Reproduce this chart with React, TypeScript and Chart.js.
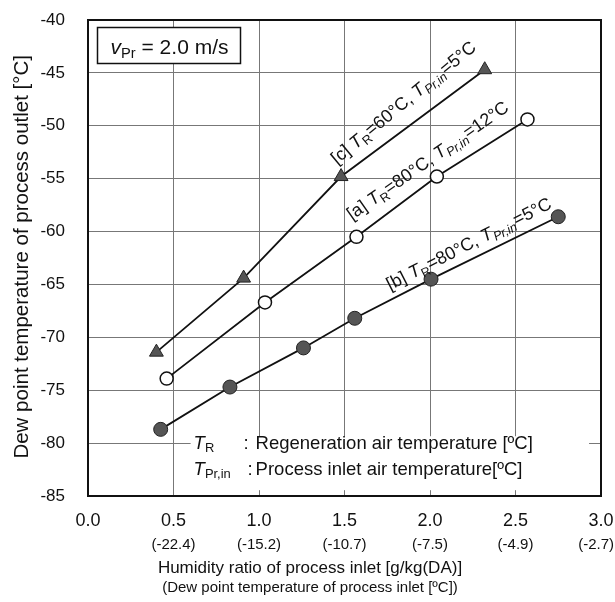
import React, { useEffect, useRef } from "react";
import { Chart, registerables } from "chart.js";

Chart.register(...registerables);

// ---- data ----
const seriesA_x = [0.46, 1.035, 1.57, 2.04, 2.57];
const seriesA_y = [-73.9, -66.7, -60.5, -54.8, -49.4];
const seriesB_x = [0.425, 0.83, 1.26, 1.56, 2.006, 2.75];
const seriesB_y = [-78.7, -74.7, -71.0, -68.2, -64.5, -58.6];
const seriesC_x = [0.4, 0.91, 1.48, 2.32];
const seriesC_y = [-71.4, -64.4, -54.8, -44.7];

const xTickValues = [0, 0.5, 1.0, 1.5, 2.0, 2.5, 3.0];
const dewPointLabels = ["", "(-22.4)", "(-15.2)", "(-10.7)", "(-7.5)", "(-4.9)", "(-2.7)"];

const xTitle = "Humidity ratio of process inlet [g/kg(DA)]";
const xSubTitle = "(Dew point temperature of process inlet [ºC])";
const yTitle = "Dew point temperature of process outlet [°C]";

const FAMILY = '"Liberation Sans", Arial, Helvetica, sans-serif';

type Part = { t: string; it?: boolean; sub?: boolean };

function drawRich(ctx: CanvasRenderingContext2D, parts: Part[], x: number, y: number, size: number) {
  let cx = x;
  for (const p of parts) {
    const s = p.sub ? size * 0.7 : size;
    ctx.font = `${p.it ? "italic " : ""}${s}px ${FAMILY}`;
    ctx.fillText(p.t, cx, y + (p.sub ? size * 0.22 : 0));
    cx += ctx.measureText(p.t).width;
  }
  return cx - x;
}

// label placements (data-space anchors, angle in degrees)
const lineLabels: { parts: Part[]; x: number; y: number; angle: number }[] = [
  {
    parts: [
      { t: "[c] " }, { t: "T", it: true }, { t: "R", sub: true }, { t: "=60°C, " },
      { t: "T", it: true }, { t: "Pr,in", sub: true, it: true }, { t: "=5°C" },
    ],
    x: 1.456, y: -53.7, angle: -39.5,
  },
  {
    parts: [
      { t: "[a] " }, { t: "T", it: true }, { t: "R", sub: true }, { t: "=80°C, " },
      { t: "T", it: true }, { t: "Pr,in", sub: true, it: true }, { t: "=12°C" },
    ],
    x: 1.544, y: -58.96, angle: -35,
  },
  {
    parts: [
      { t: "[b] " }, { t: "T", it: true }, { t: "R", sub: true }, { t: "=80°C, " },
      { t: "T", it: true }, { t: "Pr,in", sub: true, it: true }, { t: "=5°C" },
    ],
    x: 1.766, y: -65.57, angle: -27,
  },
];

const overlayPlugin = {
  id: "overlay",
  beforeDatasetsDraw(chart: any) {
    const ctx: CanvasRenderingContext2D = chart.ctx;
    const xs = chart.scales.x;
    const ys = chart.scales.y;
    const area = chart.chartArea;
    ctx.save();
    // white box for the symbol explanation
    const bx0 = xs.getPixelForValue(0.6);
    const bx1 = xs.getPixelForValue(2.93);
    const by0 = ys.getPixelForValue(-79.35);
    const by1 = ys.getPixelForValue(-84.45);
    ctx.fillStyle = "#fff";
    ctx.fillRect(bx0, by0, bx1 - bx0, by1 - by0);
    ctx.fillStyle = "#111";
    ctx.textBaseline = "middle";
    ctx.textAlign = "left";
    const l1 = ys.getPixelForValue(-80.1);
    const l2 = ys.getPixelForValue(-82.55);
    const tx = bx0 + 3;
    drawRich(ctx, [{ t: "T", it: true }, { t: "R", sub: true }], tx, l1, 18.5);
    drawRich(ctx, [{ t: ":" }], tx + 50, l1, 18.5);
    drawRich(ctx, [{ t: "Regeneration air temperature [ºC]" }], tx + 62, l1, 18.5);
    drawRich(ctx, [{ t: "T", it: true }, { t: "Pr,in", sub: true }], tx, l2, 18.5);
    drawRich(ctx, [{ t: ":" }], tx + 54, l2, 18.5);
    drawRich(ctx, [{ t: "Process inlet air temperature[ºC]" }], tx + 62, l2, 18.5);

    // velocity box
    const vx = area.left + 9.5;
    const vy = area.top + 7.5;
    ctx.fillStyle = "#fff";
    ctx.fillRect(vx, vy, 143, 36);
    ctx.strokeStyle = "#111";
    ctx.lineWidth = 1.5;
    ctx.strokeRect(vx, vy, 143, 36);
    ctx.fillStyle = "#111";
    ctx.textBaseline = "alphabetic";
    drawRich(ctx, [{ t: "v", it: true }, { t: "Pr", sub: true }, { t: " = 2.0 m/s" }], vx + 13, vy + 26, 21);

    // frame
    ctx.strokeStyle = "#111";
    ctx.lineWidth = 2;
    ctx.strokeRect(area.left, area.top, area.right - area.left, area.bottom - area.top);
    ctx.restore();
  },
  afterDraw(chart: any) {
    const ctx: CanvasRenderingContext2D = chart.ctx;
    const xs = chart.scales.x;
    const ys = chart.scales.y;
    const area = chart.chartArea;
    ctx.save();
    ctx.fillStyle = "#111";
    // dew point tick labels
    ctx.font = `15px ${FAMILY}`;
    ctx.textAlign = "center";
    ctx.textBaseline = "middle";
    xTickValues.forEach((v, i) => {
      const lab = dewPointLabels[i];
      if (!lab) return;
      const w = ctx.measureText(lab).width;
      const px = Math.min(xs.getPixelForValue(v), chart.width - 1 - w / 2);
      ctx.fillText(lab, px, area.bottom + 49);
    });
    // axis titles
    ctx.font = `17px ${FAMILY}`;
    ctx.fillText(xTitle, 310, area.bottom + 72);
    ctx.font = `15px ${FAMILY}`;
    ctx.fillText(xSubTitle, 310, area.bottom + 92);
    ctx.save();
    ctx.translate(22, 55);
    ctx.rotate(-Math.PI / 2);
    ctx.textAlign = "right";
    ctx.font = `20.5px ${FAMILY}`;
    ctx.fillText(yTitle, 0, 0);
    ctx.restore();
    // rotated line labels
    ctx.textAlign = "left";
    ctx.textBaseline = "alphabetic";
    for (const lab of lineLabels) {
      ctx.save();
      ctx.translate(xs.getPixelForValue(lab.x), ys.getPixelForValue(lab.y));
      ctx.rotate((lab.angle * Math.PI) / 180);
      drawRich(ctx, lab.parts, 0, 0, 18);
      ctx.restore();
    }
    ctx.restore();
  },
};

export default function App() {
  const ref = useRef<HTMLCanvasElement | null>(null);
  useEffect(() => {
    if (!ref.current) return;
    const mk = (xv: number[], yv: number[]) => xv.map((x, i) => ({ x, y: yv[i] }));
    const chart = new Chart(ref.current, {
      type: "scatter",
      data: {
        datasets: [
          {
            label: "[c]",
            data: mk(seriesC_x, seriesC_y),
            showLine: true,
            borderColor: "#111",
            borderWidth: 1.8,
            pointStyle: "triangle",
            pointRadius: 8,
            pointBackgroundColor: "#555",
            pointBorderColor: "#222",
            pointBorderWidth: 1,
          },
          {
            label: "[a]",
            data: mk(seriesA_x, seriesA_y),
            showLine: true,
            borderColor: "#111",
            borderWidth: 1.8,
            pointRadius: 6.5,
            pointBackgroundColor: "#fff",
            pointBorderColor: "#111",
            pointBorderWidth: 1.5,
          },
          {
            label: "[b]",
            data: mk(seriesB_x, seriesB_y),
            showLine: true,
            borderColor: "#111",
            borderWidth: 1.8,
            pointRadius: 7,
            pointBackgroundColor: "#555",
            pointBorderColor: "#222",
            pointBorderWidth: 1,
          },
        ],
      },
      options: {
        animation: false,
        responsive: false,
        devicePixelRatio: 1,
        layout: { padding: { top: 20, right: 14, left: 0, bottom: 0 } },
        plugins: { legend: { display: false }, tooltip: { enabled: false } },
        scales: {
          x: {
            type: "linear",
            min: 0,
            max: 3,
            afterFit: (s: any) => { s.height = 106; },
            afterBuildTicks: (s: any) => { s.ticks = xTickValues.map((v) => ({ value: v })); },
            ticks: {
              callback: (v: any) => Number(v).toFixed(1),
              font: { size: 18, family: FAMILY },
              color: "#111",
              padding: 0,
              maxRotation: 0,
            },
            grid: { color: "#777", lineWidth: 1, drawTicks: true, tickLength: 14, tickColor: "rgba(0,0,0,0)" },
            border: { display: false },
          },
          y: {
            type: "linear",
            min: -85,
            max: -40,
            afterFit: (s: any) => { s.width = 88; },
            ticks: {
              stepSize: 5,
              font: { size: 17, family: FAMILY },
              color: "#111",
              padding: 0,
            },
            grid: { color: "#777", lineWidth: 1, drawTicks: true, tickLength: 23, tickColor: "rgba(0,0,0,0)" },
            border: { display: false },
          },
        },
      },
      plugins: [overlayPlugin],
    });
    return () => chart.destroy();
  }, []);
  return (
    <div style={{ position: "fixed", left: 0, top: 0, width: 615, height: 602, background: "#fff" }}>
      <canvas ref={ref} width={615} height={602} style={{ width: 615, height: 602, display: "block" }} />
    </div>
  );
}
